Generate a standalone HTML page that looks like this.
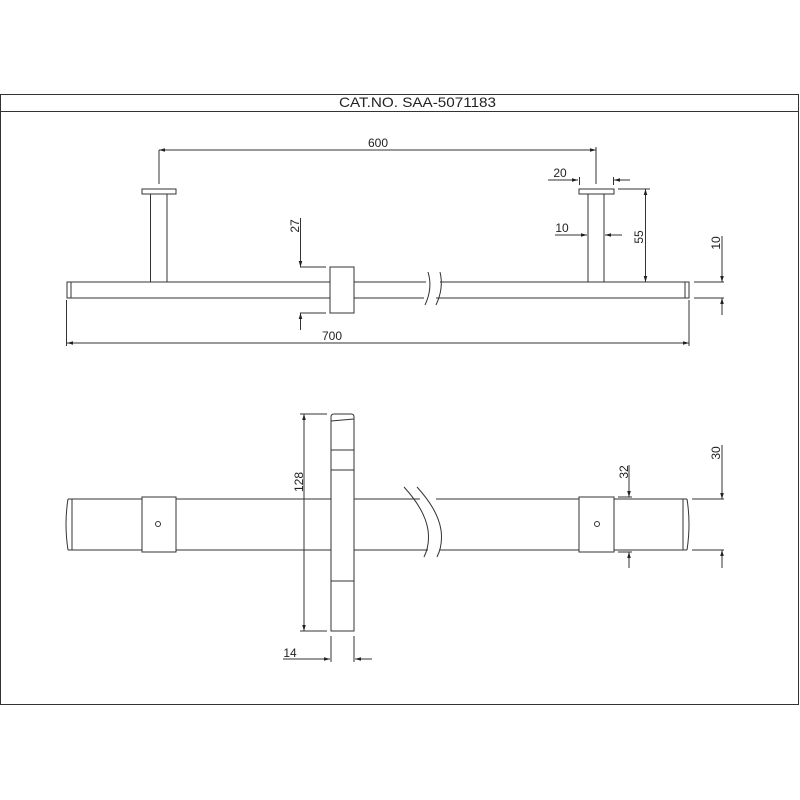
<!DOCTYPE html>
<html><head><style>html,body{margin:0;padding:0;background:#fff}svg{display:block}</style></head>
<body>
<svg width="800" height="800" viewBox="0 0 800 800" xmlns="http://www.w3.org/2000/svg">
<defs>
<marker id="a" viewBox="0 0 10 6" refX="10" refY="3" markerWidth="6" markerHeight="4" orient="auto-start-reverse" markerUnits="userSpaceOnUse"><path d="M0,0 L10,3 L0,6 z" fill="#222"/></marker>
</defs>
<g fill="none" stroke="#333" stroke-width="1">
<rect x="0.5" y="94.5" width="798" height="610"/>
<line x1="0" y1="111.5" x2="799" y2="111.5"/>
</g>
<text x="339" y="107" font-family="Liberation Sans, sans-serif" font-size="14" fill="#222" textLength="157" lengthAdjust="spacingAndGlyphs">CAT.NO. SAA-5071183</text>

<g fill="none" stroke="#333" stroke-width="1">
<path d="M330,282 H67 V298 H330 M354,282 H426 M354,298 H424 M440,282 H689 V298 H436"/>
<line x1="71" y1="282" x2="71" y2="298"/>
<line x1="685" y1="282" x2="685" y2="298"/>
<path d="M428,272 Q433,288 425,305 M440,272 Q444,288 436,305"/>
<rect x="330" y="267" width="24" height="46"/>
<rect x="142" y="189" width="34" height="5"/>
<rect x="150.5" y="194" width="16.5" height="88"/>
<rect x="579" y="189" width="35" height="5"/>
<rect x="588" y="194" width="16" height="88"/>
<line x1="159" y1="184" x2="159" y2="150"/>
<line x1="596" y1="184" x2="596" y2="147"/>
<line x1="159" y1="150" x2="596" y2="150" marker-start="url(#a)" marker-end="url(#a)"/>
<line x1="66.5" y1="300" x2="66.5" y2="346"/>
<line x1="689" y1="300" x2="689" y2="346"/>
<line x1="67" y1="343" x2="689" y2="343" marker-start="url(#a)" marker-end="url(#a)"/>
<line x1="300.5" y1="218" x2="300.5" y2="267" marker-end="url(#a)"/>
<line x1="300" y1="267" x2="326" y2="267"/>
<line x1="300" y1="313" x2="326" y2="313"/>
<line x1="300.5" y1="330" x2="300.5" y2="313" marker-end="url(#a)"/>
<line x1="548" y1="180" x2="578" y2="180" marker-end="url(#a)"/>
<line x1="579.5" y1="177" x2="579.5" y2="185"/>
<line x1="613.5" y1="177" x2="613.5" y2="185"/>
<line x1="630" y1="180" x2="614" y2="180" marker-end="url(#a)"/>
<line x1="555" y1="235" x2="587" y2="235" marker-end="url(#a)"/>
<line x1="622" y1="235" x2="605" y2="235" marker-end="url(#a)"/>
<line x1="618" y1="189" x2="650" y2="189"/>
<line x1="645.5" y1="189" x2="645.5" y2="282" marker-start="url(#a)" marker-end="url(#a)"/>
<line x1="694" y1="282" x2="724" y2="282"/>
<line x1="694" y1="298" x2="724" y2="298"/>
<line x1="722" y1="236" x2="722" y2="282" marker-end="url(#a)"/>
<line x1="722" y1="315" x2="722" y2="298" marker-end="url(#a)"/>

<path d="M68,499 H142 M176,499 H331 M354,499 H420 M436,499 H579 M614,499 H687 M68,550 H142 M176,550 H331 M354,550 H428 M440,550 H579 M614,550 H687"/>
<path d="M68,499 Q64,524 68,550 M72,499 V550"/>
<path d="M687,499 Q691,524 687,550 M683,499 V550"/>
<path d="M404,487 Q425,510 428,530 Q430,545 424,557 M417,487 Q438,510 441,530 Q443,545 437,557"/>
<rect x="142" y="497" width="34" height="55"/>
<circle cx="158" cy="524" r="2.5"/>
<rect x="579" y="497" width="35" height="55"/>
<circle cx="597" cy="524" r="2.5"/>
<path d="M331,631 V417 Q331,414 334,414 H351 Q354,414 354,417 V631 Z"/>
<line x1="331" y1="421" x2="354" y2="419"/>
<line x1="331" y1="450" x2="354" y2="450"/>
<line x1="331" y1="470" x2="354" y2="470"/>
<line x1="331" y1="581" x2="354" y2="581"/>
<line x1="300" y1="414" x2="327" y2="414"/>
<line x1="300" y1="631" x2="327" y2="631"/>
<line x1="304" y1="414" x2="304" y2="631" marker-start="url(#a)" marker-end="url(#a)"/>
<line x1="331" y1="636" x2="331" y2="662"/>
<line x1="354" y1="636" x2="354" y2="662"/>
<line x1="283" y1="659" x2="330" y2="659" marker-end="url(#a)"/>
<line x1="372" y1="659" x2="355" y2="659" marker-end="url(#a)"/>
<line x1="618" y1="497" x2="632" y2="497"/>
<line x1="618" y1="552" x2="632" y2="552"/>
<line x1="629" y1="465" x2="629" y2="497" marker-end="url(#a)"/>
<line x1="629" y1="568" x2="629" y2="552" marker-end="url(#a)"/>
<line x1="692" y1="499" x2="724" y2="499"/>
<line x1="692" y1="550" x2="724" y2="550"/>
<line x1="722" y1="445" x2="722" y2="499" marker-end="url(#a)"/>
<line x1="722" y1="568" x2="722" y2="550" marker-end="url(#a)"/>
</g>

<g font-family="Liberation Sans, sans-serif" font-size="12" fill="#222">
<text x="378" y="147" text-anchor="middle">600</text>
<text x="332" y="340" text-anchor="middle">700</text>
<text x="560" y="177" text-anchor="middle">20</text>
<text x="562" y="232" text-anchor="middle">10</text>
<text x="290" y="657" text-anchor="middle">14</text>
<text transform="translate(299,226) rotate(-90)" text-anchor="middle">27</text>
<text transform="translate(643,237) rotate(-90)" text-anchor="middle">55</text>
<text transform="translate(720,243) rotate(-90)" text-anchor="middle">10</text>
<text transform="translate(303,482) rotate(-90)" text-anchor="middle">128</text>
<text transform="translate(628,472) rotate(-90)" text-anchor="middle">32</text>
<text transform="translate(720,453) rotate(-90)" text-anchor="middle">30</text>
</g>
</svg>
</body></html>
